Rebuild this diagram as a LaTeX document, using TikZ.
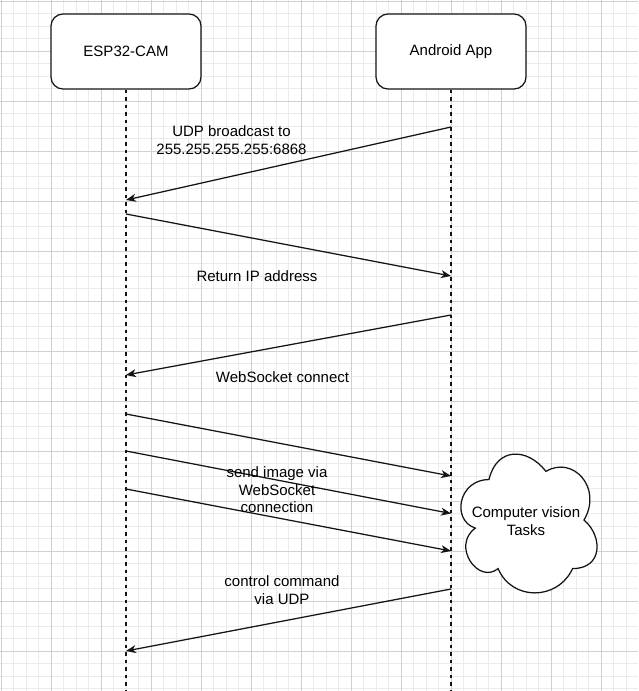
\documentclass[tikz,border=0pt]{standalone}
\usepackage{fontspec}
\setmainfont{Liberation Sans}
\usetikzlibrary{arrows.meta,positioning,calc}
\definecolor{gridMajor}{RGB}{208,208,208}
\definecolor{gridMinor}{RGB}{235,235,235}
\definecolor{lineDark} {RGB}{20,20,20}

\begin{document}
\begin{tikzpicture}[x=1pt,y=-1pt,
    actor/.style={draw=lineDark,fill=white,rounded corners=12pt,line width=1.25pt,
                  minimum width=150pt,minimum height=75pt,
                  font=\fontsize{15}{17.5}\selectfont},
    lifeline/.style={lineDark,line width=1.25pt,dash pattern=on 3.75pt off 3.75pt},
    msg/.style={-{Stealth[length=10pt,width=8pt,inset=3pt]},lineDark,line width=1.25pt},
    msgtext/.style={align=center,inner sep=0pt,font=\fontsize{15}{17.5}\selectfont}]

    % ════════ fundo com grade ════════
    \fill[white] (0,0) rectangle (638,691);
    \useasboundingbox (0,0) rectangle (638,691);
    \foreach \gx in {1.3,13.8,...,638}{
      \draw[gridMinor,line width=0.8pt] (\gx,0)--(\gx,691);
    }
    \foreach \gy in {1,13.5,...,691}{
      \draw[gridMinor,line width=0.8pt] (0,\gy)--(638,\gy);
    }
    \foreach \gx in {1.3,51.3,...,638}{
      \draw[gridMajor,line width=0.9pt] (\gx,0)--(\gx,691);
    }
    \foreach \gy in {1,51,...,691}{
      \draw[gridMajor,line width=0.9pt] (0,\gy)--(638,\gy);
    }

    % ════════ participantes ════════
    \node[actor] (esp) at (126,51.5){ESP32-CAM};
    \node[actor] (app) at (451,51.5){Android App};

    % linhas de vida
    \coordinate (espEnd) at (126,691);
    \coordinate (appEnd) at (451,691);
    \draw[lifeline] (esp.south)--(espEnd);
    \draw[lifeline] (app.south)--(appEnd);

    % pontos das mensagens nas linhas de vida
    \foreach \n/\ya/\yb in {1/127/200, 2/276/214, 3/315/375, 4/476/414,
                            5/513.5/451, 6/551/489, 7/589/651}{
      \coordinate (app\n) at (451,\ya);
      \coordinate (esp\n) at (126,\yb);
    }

    % ════════ mensagens ════════
    \draw[msg] (app1)--(esp1);
    \draw[msg] (esp2)--(app2);
    \draw[msg] (app3)--(esp3);
    \draw[msg] (esp4)--(app4);
    \draw[msg] (esp5)--(app5);
    \draw[msg] (esp6)--(app6);
    \draw[msg] (app7)--(esp7);

    % textos das mensagens
    \node[msgtext] (udpTxt)  at (231.5,140){UDP broadcast to\\255.255.255.255:6868};
    \node[msgtext] (ipTxt)   at (257,276){Return IP address};
    \node[msgtext] (wsTxt)   at (282.5,377){WebSocket connect};
    \node[msgtext] (imgTxt)  at (277,490){send image via\\WebSocket\\connection};
    \node[msgtext] (ctrlTxt) at (282,590){control command\\via UDP};

    % ════════ nuvem ════════
    \begin{scope}[shift={(451,439)},x=152pt,y=-162pt]
      \draw[lineDark,fill=white,line width=1.25pt]
        (0.25,0.25) .. controls (0.05,0.25) and (0,0.5) .. (0.16,0.55)
        .. controls (0,0.66) and (0.18,0.9) .. (0.31,0.8)
        .. controls (0.4,1) and (0.7,1) .. (0.8,0.8)
        .. controls (1,0.8) and (1,0.6) .. (0.875,0.5)
        .. controls (1,0.3) and (0.8,0.1) .. (0.625,0.2)
        .. controls (0.5,0.05) and (0.3,0.05) .. (0.25,0.25) -- cycle;
    \end{scope}
    \node[msgtext] (cvTxt) at (526,521){Computer vision\\Tasks};

\end{tikzpicture}
\end{document}
